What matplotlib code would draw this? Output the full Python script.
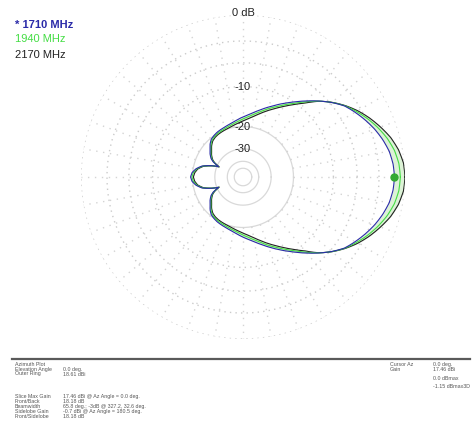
import numpy as np
import matplotlib
matplotlib.use("Agg")
import matplotlib.pyplot as plt

# ---------------- data (dB relative to outer ring, half pattern 0..180 deg, symmetric) -------------
angles_deg = [0, 5, 10, 15, 20, 25, 30, 35, 40, 45, 50, 55, 60, 65, 70, 75, 80, 85, 90, 95, 100, 105,
              110, 115, 120, 125, 130, 135, 140, 145, 150, 153, 157, 160, 165, 170, 175, 180]
gain_1710 = [-1.15, -1.25, -1.5, -1.95, -2.5, -3.15, -3.85, -4.6, -5.75, -7.05, -8.4, -9.75, -11.0,
             -12.2, -13.35, -14.45, -15.45, -16.3, -17.0, -17.7, -18.3, -18.75, -19.1, -19.35, -19.6,
             -19.95, -20.4, -21.4, -22.8, -23.9, -25.4, -27.0, -31.0, -27.3, -23.0, -21.0, -19.8, -19.35]
gain_1940 = [-0.5, -0.6, -0.9, -1.4, -2.05, -2.8, -3.65, -4.55, -5.72, -7.08, -8.6, -10.1, -11.4,
             -12.65, -13.8, -15.0, -16.0, -16.9, -17.6, -18.25, -18.8, -19.2, -19.55, -19.8, -20.0,
             -20.3, -20.8, -21.8, -23.2, -24.3, -25.8, -27.4, -31.2, -27.4, -23.2, -21.3, -20.2, -19.8]
gain_2170 = [0.0, -0.1, -0.45, -1.0, -1.75, -2.55, -3.45, -4.5, -5.7, -7.1, -8.9, -10.4, -11.8,
             -13.1, -14.3, -15.5, -16.6, -17.5, -18.2, -18.8, -19.3, -19.7, -20.0, -20.2, -20.4,
             -20.7, -21.2, -22.2, -23.6, -24.7, -26.2, -27.8, -31.5, -27.5, -23.5, -21.6, -20.7, -20.3]
series_labels = ["* 1710 MHz", "1940 MHz", "2170 MHz"]
series_colors = ["#2a2aa8", "#44dd44", "#222222"]
dotted_rings = [0, -3, -6, -10]
solid_rings = [-20, -30, -40, -50]
ring_labels = ["-10", "-20", "-30"]
cursor_az = 0.0
cursor_gain = -1.15

info_left = [("Azimuth Plot", ""), ("Elevation Angle", "0.0 deg."), ("Outer Ring", "18.61 dBi"),
             ("Slice Max Gain", "17.46 dBi @ Az Angle = 0.0 deg."), ("Front/Back", "18.18 dB"),
             ("Beamwidth", "65.8 deg.; -3dB @ 327.2, 32.6 deg."),
             ("Sidelobe Gain", "-0.7 dBi @ Az Angle = 180.5 deg."), ("Front/Sidelobe", "18.18 dB")]
info_right = [("Cursor Az", "0.0 deg."), ("Gain", "17.46 dBi"), ("", "0.0 dBmax"), ("", "-1.15 dBmax3D")]

plt.rcParams['font.family'] = ['Liberation Sans', 'DejaVu Sans']

def full(vals):
    a = list(angles_deg) + [360 - a for a in angles_deg[-2::-1]]
    v = list(vals) + list(vals[-2::-1])
    return np.deg2rad(a), np.array(v)

# ARRL log scale: each 2 dB -> factor 0.89
def fwd(db):
    db = np.asarray(db, dtype=float)
    return 0.89 ** (-db / 2.0)

def inv(r):
    r = np.clip(np.asarray(r, dtype=float), 1e-12, None)
    return -2.0 * np.log(r) / np.log(0.89)

fig = plt.figure(figsize=(4.73, 4.34), dpi=100)
fig.patch.set_facecolor("white")
W, H = 473, 434
cx, cy, R = 243, 177, 162
ax = fig.add_axes([(cx - R) / W, 1 - (cy + R) / H, 2 * R / W, 2 * R / H], projection="polar")
ax.set_rscale("function", functions=(fwd, inv))
ax.set_ylim(-140, 0)
ax.grid(False)
ax.set_xticks([])
ax.set_yticks([])
ax.spines["polar"].set_visible(False)
ax.set_facecolor("none")

def smooth(artist_list):
    for ln in artist_list:
        ln.get_path()._interpolation_steps = 12

th = np.linspace(0, 2 * np.pi, 361)
for d in solid_rings:
    ax.plot(th, np.full_like(th, d), color="#d9d9d9", lw=0.9, zorder=1)
for d in dotted_rings:
    ax.plot(th, np.full_like(th, d), color="#cbcbcb", lw=1.0, ls=(0, (1, 3)), zorder=1)
for a in range(0, 360, 10):
    ax.plot([np.deg2rad(a)] * 2, [-20, 0], color="#d4d4d4", lw=1.0, ls=(0, (1, 4)), zorder=1)

t1, g1 = full(gain_1710)
t2, g2 = full(gain_1940)
t3, g3 = full(gain_2170)
coll = ax.fill_between(t1, g1, g3, color="#dcf2d6", lw=0, zorder=2)
for p in coll.get_paths():
    p._interpolation_steps = 12
l3 = ax.plot(t3, g3, color=series_colors[2], lw=0.8, zorder=3)
l2 = ax.plot(t2, g2, color=series_colors[1], lw=0.8, zorder=4)
l1 = ax.plot(t1, g1, color=series_colors[0], lw=0.8, zorder=5)
smooth(l1 + l2 + l3)
ax.plot([np.deg2rad(cursor_az)], [cursor_gain], "o", color="#33aa33", ms=5, zorder=6)

for lab in ring_labels:
    ax.text(np.pi / 2, float(lab), lab, ha="center", va="center", fontsize=8, color="#222222", zorder=7)
fig.text(cx / W, 1 - 13 / H, "0 dB", ha="center", va="center", fontsize=8, color="#222222")

# legend
fig.text(15 / W, 1 - 24.5 / H, series_labels[0], color=series_colors[0], fontsize=8, fontweight="bold", va="center")
fig.text(15 / W, 1 - 39.5 / H, series_labels[1], color=series_colors[1], fontsize=8, va="center")
fig.text(15 / W, 1 - 54.5 / H, series_labels[2], color=series_colors[2], fontsize=8, va="center")

# bottom info panel
fig.add_artist(plt.Line2D([12 / W, 470 / W], [1 - 359 / H] * 2, color="#5a5a5a", lw=1.6))
left_y = [364.3, 369.2, 374.0, 396.7, 401.5, 406.3, 411.3, 416.2]
for (k, v), y in zip(info_left, left_y):
    if k:
        fig.text(15 / W, 1 - y / H, k, fontsize=3.8, color="#555555", va="center")
    if v:
        fig.text(63 / W, 1 - y / H, v, fontsize=3.8, color="#555555", va="center")
right_y = [364.3, 369.2, 379.0, 386.5]
for (k, v), y in zip(info_right, right_y):
    if k:
        fig.text(390 / W, 1 - y / H, k, fontsize=3.8, color="#555555", va="center")
    if v:
        fig.text(433 / W, 1 - y / H, v, fontsize=3.8, color="#555555", va="center")

fig.savefig("out.png", dpi=100, facecolor="white")
